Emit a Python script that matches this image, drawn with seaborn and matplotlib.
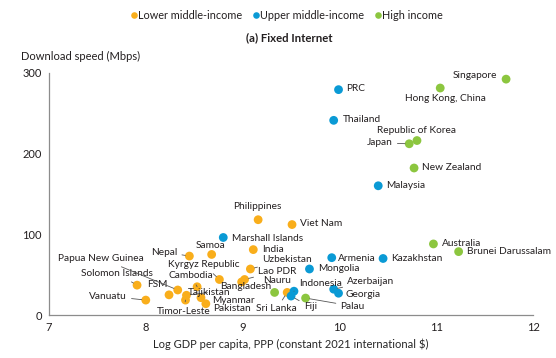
import pandas as pd
import seaborn as sns
import matplotlib.pyplot as plt

# data
countries = ['Philippines', 'Viet Nam', 'Samoa', 'India', 'Nepal', 'Uzbekistan',
             'Kyrgyz Republic', 'Lao PDR', 'Bangladesh', 'Sri Lanka', 'Cambodia',
             'Tajikistan', 'Timor-Leste', 'Myanmar', 'Pakistan', 'FSM', 'Vanuatu',
             'Solomon Islands', 'Papua New Guinea',
             'PRC', 'Thailand', 'Malaysia', 'Marshall Islands', 'Kazakhstan', 'Armenia',
             'Mongolia', 'Indonesia', 'Fiji', 'Azerbaijan', 'Georgia',
             'Singapore', 'Hong Kong, China', 'Republic of Korea', 'Japan', 'New Zealand',
             'Australia', 'Brunei Darussalam', 'Nauru', 'Palau']
gdp = [9.16, 9.51, 8.68, 9.11, 8.45, 9.08, 8.76, 9.02, 8.99, 9.46, 8.53, 8.42, 8.41,
       8.57, 8.62, 8.24, 8.00, 7.91, 8.33,
       9.99, 9.94, 10.40, 8.80, 10.45, 9.92, 9.69, 9.53, 9.50, 9.94, 9.99,
       11.72, 11.04, 10.80, 10.72, 10.77, 10.97, 11.23, 9.33, 9.65]
speed = [118, 112, 75, 81, 73, 57, 44, 44, 41, 28, 35, 24.5, 18.5, 21.5, 14, 25, 18.5,
         37, 31,
         279, 241, 160, 96, 70, 71, 57, 29.5, 23.5, 32, 27,
         292, 281, 216, 212, 182, 88, 78.5, 28, 21]
groups = ['Lower middle-income'] * 19 + ['Upper middle-income'] * 11 + ['High income'] * 9

df = pd.DataFrame({'country': countries, 'gdp': gdp, 'speed': speed, 'group': groups})

palette = {'Lower middle-income': '#F9AE1B',
           'Upper middle-income': '#0A9AD5',
           'High income': '#8CC63F'}

# label placement: (x, y, ha, leader line?)
labels = {
    'Singapore': (11.63, 296, 'right', False),
    'Hong Kong, China': (11.09, 268, 'center', False),
    'PRC': (10.07, 280, 'left', False),
    'Thailand': (10.03, 242, 'left', False),
    'Republic of Korea': (10.80, 229, 'center', False),
    'Japan': (10.55, 213, 'right', True),
    'New Zealand': (10.85, 183, 'left', False),
    'Malaysia': (10.48, 160, 'left', False),
    'Australia': (11.06, 88.5, 'left', False),
    'Brunei Darussalam': (11.32, 79, 'left', False),
    'Kazakhstan': (10.53, 70, 'left', False),
    'Armenia': (9.98, 69.5, 'left', False),
    'Mongolia': (9.78, 57, 'left', False),
    'Azerbaijan': (10.08, 42, 'left', True),
    'Georgia': (10.06, 25.5, 'left', False),
    'Palau': (10.01, 11, 'left', True),
    'Fiji': (9.63, 10, 'left', True),
    'Indonesia': (9.80, 39, 'center', True),
    'Sri Lanka': (9.35, 7.5, 'center', True),
    'Nauru': (9.36, 43, 'center', False),
    'Bangladesh': (8.77, 35.5, 'left', False),
    'Lao PDR': (9.16, 54.5, 'left', True),
    'Uzbekistan': (9.20, 69, 'left', True),
    'India': (9.20, 81.5, 'left', False),
    'Marshall Islands': (8.89, 94.5, 'left', False),
    'Philippines': (9.15, 134, 'center', False),
    'Viet Nam': (9.59, 113, 'left', False),
    'Samoa': (8.67, 85.5, 'center', False),
    'Nepal': (8.19, 78, 'center', True),
    'Kyrgyz Republic': (8.60, 62, 'center', True),
    'Cambodia': (8.47, 48.5, 'center', True),
    'Tajikistan': (8.65, 28, 'center', True),
    'Myanmar': (8.68, 18, 'left', False),
    'Pakistan': (8.70, 8.5, 'left', False),
    'Timor-Leste': (8.39, 5, 'center', True),
    'FSM': (8.12, 38, 'center', False),
    'Solomon Islands': (7.70, 51.5, 'center', True),
    'Papua New Guinea': (7.54, 70, 'center', True),
    'Vanuatu': (7.61, 23.5, 'center', True),
}

sns.set_style('white')
plt.rcParams['font.family'] = ['Lato', 'DejaVu Sans']
plt.rcParams['text.color'] = '#231F20'

fig = plt.figure(figsize=(5.56, 3.58), dpi=100)
ax = fig.add_axes([0.088, 0.12, 0.871, 0.677])

sns.scatterplot(data=df, x='gdp', y='speed', hue='group', palette=palette,
                hue_order=list(palette), s=40, linewidth=0, ax=ax, zorder=3)

for name, (tx, ty, ha, leader) in labels.items():
    row = df[df.country == name].iloc[0]
    arrow = None
    if leader:
        arrow = dict(arrowstyle='-', color='#555555', lw=0.6, shrinkA=1, shrinkB=3)
    ax.annotate(name, xy=(row.gdp, row.speed), xytext=(tx, ty), textcoords='data',
                ha=ha, va='center', fontsize=7.3, color='#231F20',
                arrowprops=arrow, zorder=4)

ax.set_xlim(7, 12)
ax.set_ylim(0, 300)
ax.set_xticks([7, 8, 9, 10, 11, 12])
ax.set_yticks([0, 100, 200, 300])
ax.set_xlabel('Log GDP per capita, PPP (constant 2021 international $)', fontsize=8)
ax.set_ylabel('')
sns.despine(ax=ax)
for sp in ['left', 'bottom']:
    ax.spines[sp].set_color('#8C8C8C')
    ax.spines[sp].set_linewidth(0.9)
ax.tick_params(axis='both', length=3, width=0.8, color='#8C8C8C', labelsize=8,
               labelcolor='#231F20', pad=2)
ax.spines['left'].set_bounds(0, 300)

fig.text(0.037, 0.842, 'Download speed (Mbps)', fontsize=8, va='center')
fig.text(0.52, 0.895, '(a) Fixed Internet', fontsize=8.2, fontweight='bold',
         ha='center', va='center')

sns.move_legend(ax, 'center', bbox_to_anchor=(0.516, 0.957),
                bbox_transform=fig.transFigure, ncol=3, title=None, frameon=False,
                fontsize=7.8, handlelength=0.5, handletextpad=0.15,
                columnspacing=1.0, markerscale=0.75)

fig.savefig('out.png', dpi=100)
